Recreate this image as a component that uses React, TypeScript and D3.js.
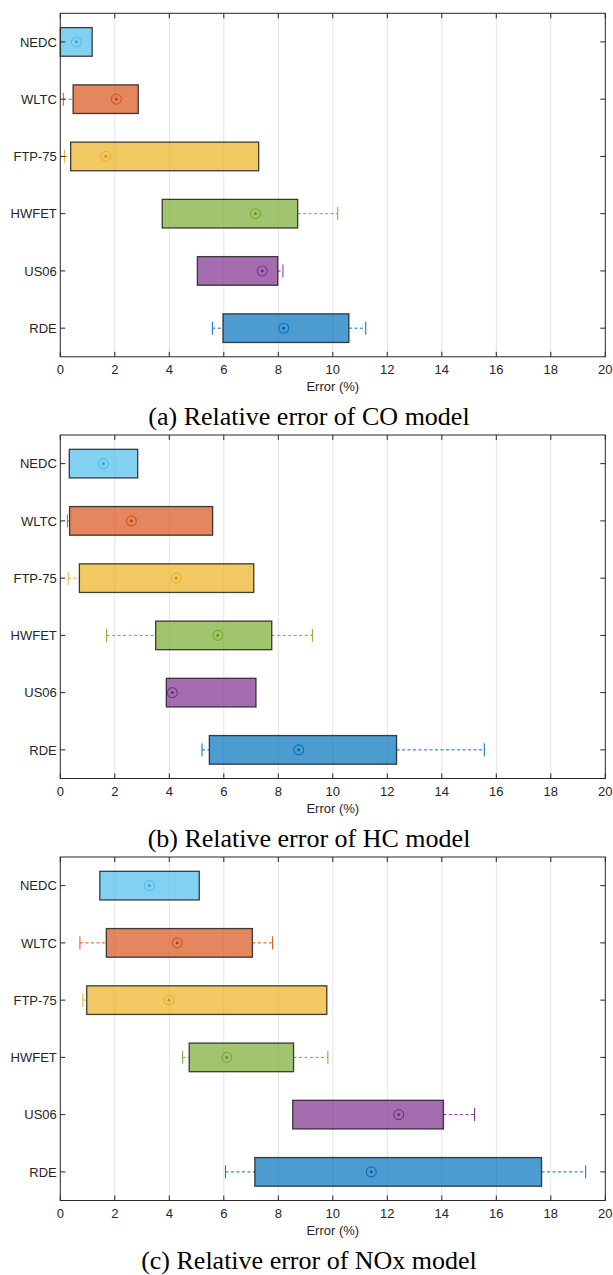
import React from 'react'
import * as d3 from 'd3'

const CATEGORIES = ['NEDC', 'WLTC', 'FTP-75', 'HWFET', 'US06', 'RDE']
const COLORS = ['#4DBEEE', '#D95319', '#EDB120', '#77AC30', '#7E2F8E', '#0072BD']
const X_TICKS = [0, 2, 4, 6, 8, 10, 12, 14, 16, 18, 20]

// CO model
const coLow = [0, 0.11, 0.15, 3.74, 5.03, 5.58]
const coQ1 = [0, 0.47, 0.38, 3.74, 5.03, 5.97]
const coMed = [0.59, 2.06, 1.67, 7.16, 7.41, 8.2]
const coQ3 = [1.17, 2.86, 7.28, 8.71, 7.98, 10.59]
const coHigh = [1.17, 2.86, 7.28, 10.18, 8.17, 11.21]

// HC model
const hcLow = [0.33, 0.26, 0.29, 1.7, 3.89, 5.2]
const hcQ1 = [0.33, 0.34, 0.7, 3.5, 3.89, 5.47]
const hcMed = [1.58, 2.61, 4.25, 5.78, 4.11, 8.75]
const hcQ3 = [2.84, 5.59, 7.1, 7.76, 7.18, 12.34]
const hcHigh = [2.84, 5.59, 7.1, 9.25, 7.18, 15.56]

// NOx model
const noxLow = [1.45, 0.72, 0.83, 4.49, 8.53, 6.06]
const noxQ1 = [1.45, 1.69, 0.97, 4.73, 8.53, 7.14]
const noxMed = [3.27, 4.29, 3.99, 6.11, 12.42, 11.41]
const noxQ3 = [5.1, 7.05, 9.78, 8.56, 14.06, 17.66]
const noxHigh = [5.1, 7.79, 9.78, 9.82, 15.2, 19.28]

const CAPTIONS = ['(a) Relative error of CO model', '(b) Relative error of HC model', '(c) Relative error of NOx model']

const panels = [
  { low: coLow, q1: coQ1, med: coMed, q3: coQ3, high: coHigh },
  { low: hcLow, q1: hcQ1, med: hcMed, q3: hcQ3, high: hcHigh },
  { low: noxLow, q1: noxQ1, med: noxMed, q3: noxQ3, high: noxHigh },
]

const W = 613
const H = 1275
const left = 60.3
const right = 605.3
const plotH = 343.5
const tops = [13.3, 435, 857]
const axisColor = '#262626'
const sans = '"Liberation Sans", Arial, Helvetica, sans-serif'
const serif = '"Liberation Serif", "Times New Roman", serif'

function Panel({ p, top, caption }: { p: typeof panels[0]; top: number; caption: string }) {
  const x = d3.scaleLinear().domain([0, 20]).range([left, right])
  const y = d3.scaleBand<string>().domain(CATEGORIES).range([top, top + plotH]).padding(0)
  const bh = y.bandwidth() * 0.5
  const bottom = top + plotH
  const capH = 13

  return (
    <g>
      {/* grid */}
      {X_TICKS.slice(1, -1).map(t => (
        <line key={'g' + t} x1={x(t)} x2={x(t)} y1={top} y2={bottom} stroke="#e3e3e3" strokeWidth={1} />
      ))}

      {CATEGORIES.map((c, i) => {
        const cy = y(c)! + y.bandwidth() / 2
        const col = COLORS[i]
        const dark = d3.color(col)!.darker(0.6).formatHex()
        return (
          <g key={c}>
            {p.low[i] < p.q1[i] && (
              <g>
                <line x1={x(p.low[i])} x2={x(p.q1[i])} y1={cy} y2={cy} stroke={col} strokeWidth={1} strokeDasharray="3,2.5" />
                <line x1={x(p.low[i])} x2={x(p.low[i])} y1={cy - capH / 2} y2={cy + capH / 2} stroke={col} strokeWidth={1} />
              </g>
            )}
            {p.high[i] > p.q3[i] && (
              <g>
                <line x1={x(p.q3[i])} x2={x(p.high[i])} y1={cy} y2={cy} stroke={col} strokeWidth={1} strokeDasharray="3,2.5" />
                <line x1={x(p.high[i])} x2={x(p.high[i])} y1={cy - capH / 2} y2={cy + capH / 2} stroke={col} strokeWidth={1} />
              </g>
            )}
            <rect x={x(p.q1[i])} y={cy - bh / 2} width={x(p.q3[i]) - x(p.q1[i])} height={bh}
              fill={col} fillOpacity={0.7} stroke="#1e1e1e" strokeWidth={1.3} strokeOpacity={0.85} />
            <circle cx={x(p.med[i])} cy={cy} r={5} fill="none" stroke={col} strokeWidth={1.1} />
            <circle cx={x(p.med[i])} cy={cy} r={1.4} fill={dark} />
          </g>
        )
      })}

      {/* axes box */}
      <rect x={left} y={top} width={right - left} height={plotH} fill="none" stroke={axisColor} strokeWidth={1} />
      {X_TICKS.map(t => (
        <g key={'t' + t}>
          <line x1={x(t)} x2={x(t)} y1={bottom} y2={bottom - 5} stroke={axisColor} />
          <line x1={x(t)} x2={x(t)} y1={top} y2={top + 5} stroke={axisColor} />
          <text x={x(t)} y={bottom + 17.5} textAnchor="middle" fontFamily={sans} fontSize={13} fill={axisColor}>{t}</text>
        </g>
      ))}
      {CATEGORIES.map(c => {
        const cy = y(c)! + y.bandwidth() / 2
        return (
          <g key={'y' + c}>
            <line x1={left} x2={left + 5} y1={cy} y2={cy} stroke={axisColor} />
            <line x1={right} x2={right - 5} y1={cy} y2={cy} stroke={axisColor} />
            <text x={left - 3.5} y={cy + 4.7} textAnchor="end" fontFamily={sans} fontSize={13} fill={axisColor}>{c}</text>
          </g>
        )
      })}
      <text x={(left + right) / 2} y={bottom + 34.5} textAnchor="middle" fontFamily={sans} fontSize={13} fill={axisColor}>Error (%)</text>
      <text x={309} y={top + 412} textAnchor="middle" fontFamily={serif} fontSize={26} fill="#000">{caption}</text>
    </g>
  )
}

export default function App() {
  return (
    <svg width={W} height={H} style={{ position: 'absolute', left: 0, top: 0, background: '#fff' }}>
      {panels.map((p, i) => (
        <Panel key={i} p={p} top={tops[i]} caption={CAPTIONS[i]} />
      ))}
    </svg>
  )
}
